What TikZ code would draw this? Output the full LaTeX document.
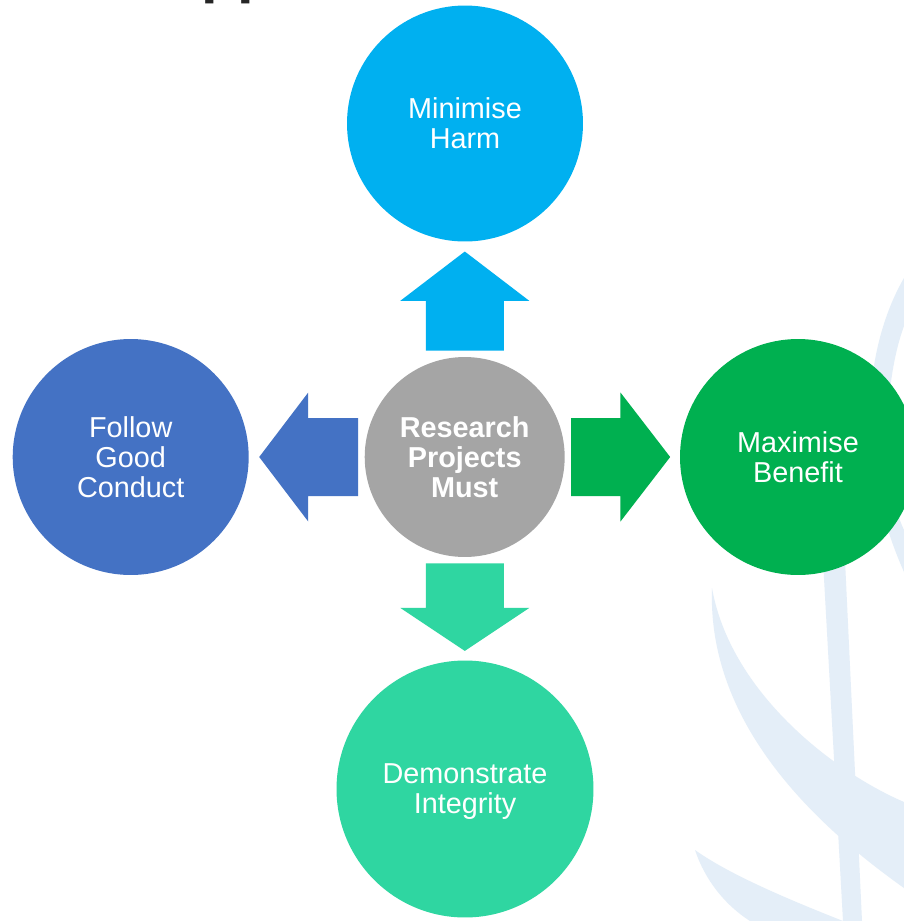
\documentclass[tikz,border=0pt]{standalone}
\usepackage{fontspec}
\setmainfont{Liberation Sans}
\usepackage{tikz}
\usetikzlibrary{calc}

\definecolor{harmblue}{RGB}{0,176,240}
\definecolor{conductblue}{RGB}{68,114,196}
\definecolor{hubgray}{RGB}{165,165,165}
\definecolor{benefitgreen}{RGB}{0,176,80}
\definecolor{integrityteal}{RGB}{47,214,161}
\definecolor{swoosh}{RGB}{228,238,248}
\definecolor{titlegray}{RGB}{38,38,38}

% fat arrow from the hub towards one of the outer bubbles
% #1 colour, #2 from, #3 to, #4 angle, #5 shaft length, #6 head length
\newcommand{\blockarrow}[6]{%
	\path [fill=#1, shift={($(#2)!2.13cm!(#3)$)}, rotate=#4]
		(0,-39) to (#5,-39) to (#5,-64.5) to (#5+#6,0) to (#5,64.5) to (#5,39) to (0,39) to cycle;}

\begin{document}
\begin{tikzpicture}[x=0.02cm, y=-0.02cm,
		bubble/.style={circle, inner sep=0pt, text=white, align=center,
			font=\fontsize{16.4}{17}\selectfont}]
		\useasboundingbox (0,0) rectangle (904,921);
		\fill[white] (0,0) rectangle (904,921);

		% cut off heading
		\node[anchor=base west, inner sep=0pt, text=titlegray,
			font=\fontsize{34}{40}\selectfont\bfseries] (title) at (201,-8.6) {pp};

		% pale swooshes behind the right hand side
		\path [fill=swoosh] (904,278) .. controls (868,340) and (850,450) .. (904,572)
			to (904,530) .. controls (880,480) and (884,380) .. (904,326) to cycle;
		\path [fill=swoosh] (712,588) .. controls (708,700) and (780,800) .. (904,888)
			to (904,802) .. controls (830,770) and (730,690) .. (712,588);
		\path [fill=swoosh] (823,560) to (845,560) to (862,921) to (843,921) to cycle;
		\path [fill=swoosh] (695,850) .. controls (705,880) and (725,905) .. (750,921)
			to (843,921) .. controls (790,900) and (730,875) .. (695,850);

		% bubbles
		\node[bubble, fill=hubgray, minimum size=4cm,
			font=\fontsize{16.4}{17.2}\selectfont\bfseries] (hub) at (464.7,457) {Research\\Projects\\Must};
		\node[bubble, fill=harmblue, minimum size=4.72cm] (harm) at (465,123.5) {Minimise\\Harm};
		\node[bubble, fill=conductblue, minimum size=4.72cm] (conduct) at (130.7,457) {Follow\\Good\\Conduct};
		\node[bubble, fill=benefitgreen, minimum size=4.72cm] (benefit) at (798,457) {Maximise\\Benefit};
		\node[bubble, fill=integrityteal, minimum size=5.14cm, text depth=0pt] (integrity) at (465,789) {Demonstrate\\Integrity};

		% arrows out of the hub
		\blockarrow{harmblue}{hub}{harm}{90}{49.7}{49.3}
		\blockarrow{conductblue}{hub}{conduct}{180}{50}{49}
		\blockarrow{benefitgreen}{hub}{benefit}{0}{49.3}{49.7}
		\blockarrow{integrityteal}{hub}{integrity}{-90}{44.4}{43}
\end{tikzpicture}
\end{document}
